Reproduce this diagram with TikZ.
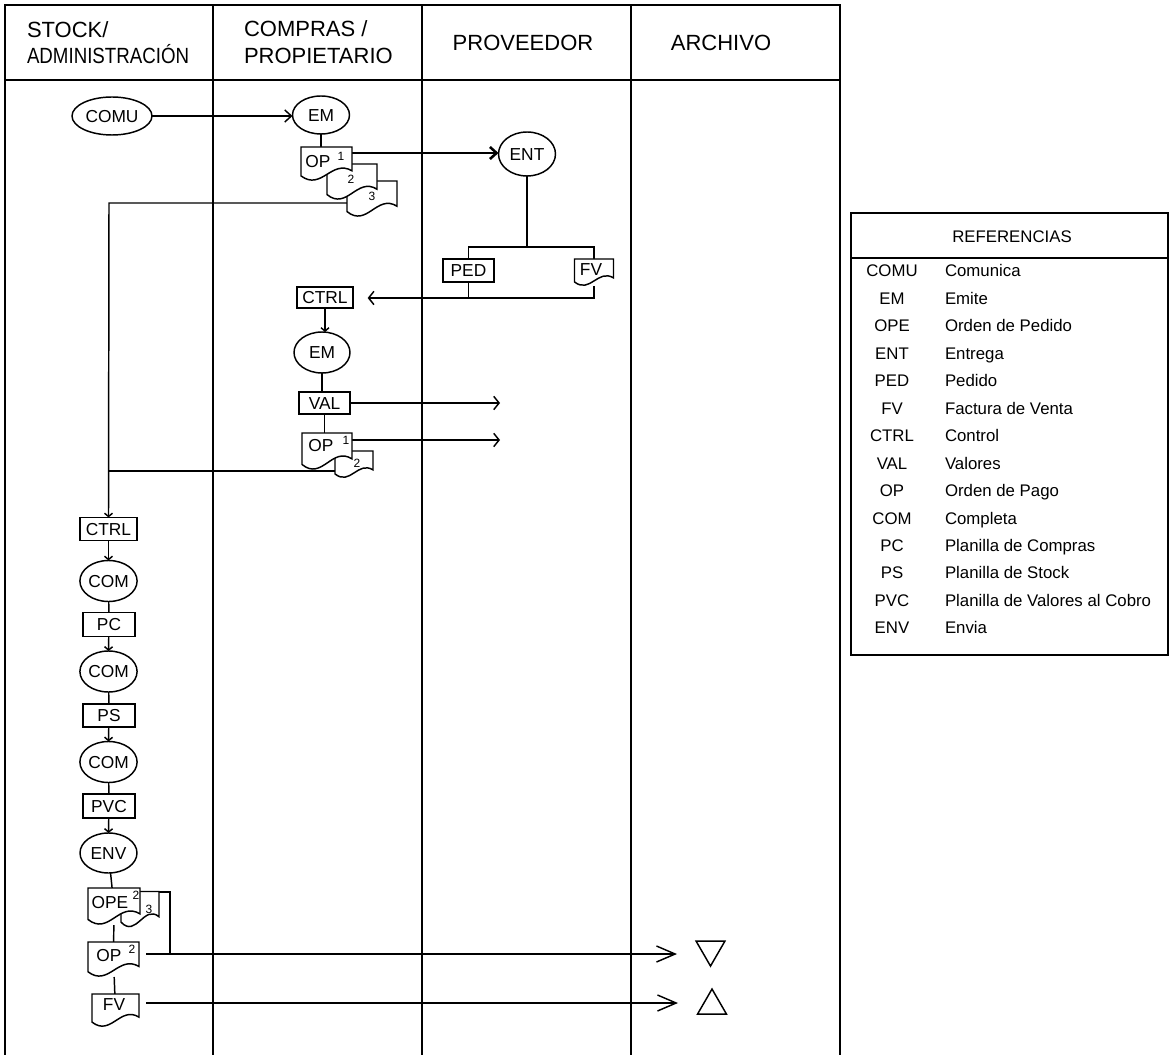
\documentclass[tikz,border=0pt]{standalone}
\usepackage{fontspec}
\setmainfont{Liberation Sans}
\usetikzlibrary{shapes.geometric,arrows.meta,backgrounds}
\newcommand\docshape[5]{%
  \draw[docline,shift={(#2,#3)}] ({-#4/2},{-#5/2}) -- ({#4/2},{-#5/2}) -- ({#4/2},{0.2*#5})
    .. controls ({0.1*#4},{-0.15*#5}) and ({-0.1*#4},{0.8*#5}) .. ({-#4/2},{0.35*#5}) -- cycle;
  \node[sz={#4}{#5}] (#1) at (#2,#3) {};
}
\begin{document}
\begin{tikzpicture}[x=0.75pt,y=-0.75pt,
  every node/.style={inner sep=0pt, outer sep=0pt},
  sz/.style 2 args={minimum width=#1*0.75pt, minimum height=#2*0.75pt},
  lab/.style={font=\fontsize{13}{15}\selectfont, text height=9.3pt, text depth=0pt},
  sup/.style={font=\fontsize{9}{10}\selectfont, text height=6.4pt, text depth=0pt},
  ell/.style={draw, ellipse, line width=1.1pt, fill=white, lab},
  box/.style={draw, rectangle, line width=1.1pt, fill=white, lab},
  docline/.style={draw, line width=1.1pt, fill=white},
  hdr/.style={font=\fontsize{16.5}{18}\selectfont, text height=11.8pt, text depth=0pt},
  leg/.style={font=\fontsize{12.6}{14}\selectfont, text height=9pt, text depth=0pt},
  conn/.style={line width=1.1pt},
  heavy/.style={line width=1.9pt},
  frame/.style={line width=1.8pt},
  barb/.style={-{Straight Barb[length=5pt,width=9pt]}},
  barbM/.style={-{Straight Barb[length=4pt,width=10pt]}},
  barbS/.style={-{Straight Barb[length=2.5pt,width=6pt]}},
  barbL/.style={-{Straight Barb[length=14pt,width=12pt]}},
  tri/.style={draw, regular polygon, regular polygon sides=3, minimum size=25pt, line width=1.1pt}
]
\useasboundingbox (0,0) rectangle (1170,1055);

% ---------- headers
\node[hdr, anchor=west] (h1a) at (27,30) {STOCK/};
\node[hdr, anchor=west] (h1b) at (27,56) {\scalebox{0.85}[1]{ADMINISTRACIÓN}};
\node[hdr, anchor=west] (h2a) at (244,29) {COMPRAS /};
\node[hdr, anchor=west] (h2b) at (244,56) {PROPIETARIO};
\node[hdr] (h3) at (523,43) {PROVEEDOR};
\node[hdr] (h4) at (721,43) {ARCHIVO};

% ---------- top flow
\node[ell, sz={80}{38}] (comu) at (112,116) {COMU};
\node[ell, sz={57}{38}] (emA) at (321,115) {EM};
\docshape{d3}{372}{199}{50}{36}
\docshape{d2}{352}{182}{50}{36}
\docshape{op1}{326.5}{164}{51}{34}
\node[lab] (op1t) at (318,161) {OP};
\node[sup] (op1s) at (341,156) {1};
\node[sup] (d2s) at (351,179) {2};
\node[sup] (d3s) at (372,196) {3};

\node[ell, sz={57}{44}] (ent) at (527,154) {ENT};
\node[box, sz={51}{23}] (ped) at (468.5,270.5) {PED};
\docshape{fv}{594}{272.5}{39}{27}
\node[lab] (fvt) at (591,269) {FV};

\node[box, sz={56}{21}] (ctrlB) at (325,297.5) {CTRL};
\node[ell, sz={56}{41}] (emB) at (322,352.5) {EM};
\node[box, sz={51}{22}] (val) at (324.5,403) {VAL};
\docshape{d2b}{354}{464.5}{38}{27}
\docshape{op1b}{327}{451.5}{50}{37}
\node[lab] (op1bt) at (321,445) {OP};
\node[sup] (op1bs) at (346,440) {1};
\node[sup] (d2bs) at (357,463) {2};

% ---------- left chain
\node[box, sz={57}{23}] (ctrlA) at (108.5,529) {CTRL};
\node[ell, sz={57}{41}] (comA) at (108.5,581) {COM};
\node[box, sz={52}{24}] (pc) at (109,624.5) {PC};
\node[ell, sz={57}{41}] (comB) at (108.5,671.5) {COM};
\node[box, sz={52}{23}] (ps) at (109,715.5) {PS};
\node[ell, sz={57}{41}] (comC) at (108.5,762) {COM};
\node[box, sz={52}{24}] (pvc) at (109,806) {PVC};
\node[ell, sz={57}{40}] (env) at (108.5,853) {ENV};
\docshape{ope3}{140}{909.5}{38}{36}
\docshape{ope}{114}{906.5}{52}{37}
\node[lab] (opet) at (110,902) {OPE};
\node[sup] (opes) at (136,895) {2};
\node[sup] (ope3s) at (149,909) {3};
\docshape{op2}{113.5}{959.5}{51}{35}
\node[lab] (op2t) at (109,955) {OP};
\node[sup] (op2s) at (132,949) {2};
\docshape{fvB}{115.5}{1010.5}{47}{33}
\node[lab] (fvBt) at (114,1004) {FV};

% ---------- archive symbols
\node[tri, shape border rotate=180] (tri1) at (710.5,949.4) {};
\node[tri] (tri2) at (712,1005.7) {};

% ---------- free connector ends
\coordinate (op1out) at (352,153);
\coordinate (d3out) at (360,203);
\coordinate (vtop) at (109,203);
\coordinate (vjoin) at (109,471);
\coordinate (d2bout) at (345,471);
\coordinate (barL) at (468.5,247);
\coordinate (barR) at (594,247);
\coordinate (botL) at (468.5,298);
\coordinate (botR) at (594,298);
\coordinate (op1bout) at (352,440);
\coordinate (colThreeA) at (500,403);
\coordinate (colThreeB) at (500,440);
\coordinate (op2out) at (146,954);
\coordinate (fvBout) at (146,1003);
\coordinate (arcA) at (677,954);
\coordinate (arcB) at (678,1003);
\coordinate (brk1) at (155,892);
\coordinate (brk2) at (170,892);
\coordinate (brk3) at (170,954);

% ---------- legend
\draw[line width=1.5pt] (851,213) rectangle (1168,655);
\draw[line width=1.5pt] (851,258) -- (1168,258);
\node[leg] (refT) at (1012,237) {REFERENCIAS};
\foreach \a/\d [count=\i from 0] in {COMU/Comunica, EM/Emite, OPE/Orden de Pedido, ENT/Entrega, PED/Pedido, FV/Factura de Venta, CTRL/Control, VAL/Valores, OP/Orden de Pago, COM/Completa, PC/Planilla de Compras, PS/Planilla de Stock, PVC/Planilla de Valores al Cobro, ENV/Envia}{
  \node[leg] (ab\i) at (892,{271+27.45*\i}) {\a};
  \node[leg, anchor=west] (de\i) at (945,{271+27.45*\i}) {\d};
}

% ---------- frame and connectors behind the shapes
\begin{scope}[on background layer]
  \draw[frame] (5,1055) -- (5,5) -- (840,5) -- (840,1055);
  \draw[frame] (5,80) -- (840,80);
  \foreach \x in {213,422,631} \draw[frame] (\x,5) -- (\x,1055);

  \draw[conn, barb] (comu.east) -- (comu.east -| emA.west);
  \draw[conn] (emA) -- (emA |- op1.north);
  \draw[heavy, barb] (op1out) -- (op1out -| ent.west);
  \draw[conn] (ent) -- (ent |- barL);
  \draw[conn] (ped) -- (barL) -- (barR) -- (fv);
  \draw[conn] (ped) -- (botL);
  \draw[conn, barbM, shorten >=11pt] (fv) -- (botR) -- (botR -| ctrlB.east);
  \draw[conn, barbS] (ctrlB) -- (ctrlB |- emB.north);
  \draw[conn] (emB) -- (emB |- val.north);
  \draw[conn, barbM] (val.east) -- (val.east -| colThreeA);
  \draw[conn] (val) -- (val |- op1b.north);
  \draw[conn, barbM] (op1bout) -- (colThreeB);
  \draw[conn] (d2bout) -- (vjoin);
  \draw[conn, barbS] (d3out) -- (vtop) -- (ctrlA.north);
  \draw[conn, barbS] (ctrlA) -- (comA.north);
  \draw[conn] (comA) -- (pc);
  \draw[conn, barbS] (pc) -- (comB.north);
  \draw[conn] (comB) -- (ps);
  \draw[conn, barbS] (ps) -- (comC.north);
  \draw[conn] (comC) -- (pvc);
  \draw[conn, barbS] (pvc) -- (env.north);
  \draw[conn] (env) -- (ope);
  \draw[conn] (ope) -- (op2);
  \draw[conn] (op2) -- (fvB);
  \draw[conn] (brk1) -- (brk2) -- (brk3);
  \draw[conn, barbL] (op2out) -- (arcA);
  \draw[conn, barbL] (fvBout) -- (arcB);
\end{scope}
\end{tikzpicture}
\end{document}
